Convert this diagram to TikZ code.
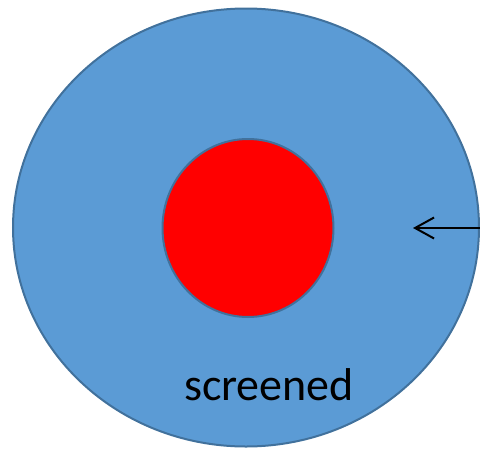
\documentclass[tikz,border=0pt]{standalone}
\usepackage{fontspec}
\setmainfont{Carlito}
\usepackage{tikz}
\usetikzlibrary{shapes.geometric,arrows.meta}
\usepackage{xcolor}
\definecolor{zoneblue}{HTML}{5B9BD5}
\definecolor{zoneedge}{HTML}{41719C}

\begin{document}
\begin{tikzpicture}[x=1pt, y=-1pt, every node/.style={font=\fontsize{46}{55}\selectfont}]
\useasboundingbox (0,0) rectangle (480,448);
\node[draw=zoneedge,line width=2pt,fill=zoneblue,ellipse,inner sep=0pt,minimum width=466pt,minimum height=438pt] (outer) at (246,227.5) {};
\node[draw=zoneedge,line width=2pt,fill=red,ellipse,inner sep=0pt,minimum width=171pt,minimum height=178pt] (core) at (248,228) {};
\node[anchor=base,inner sep=0pt] (screened) at (269,400) {screened};
\coordinate (edge) at (482,228);
\coordinate (tip) at (413,228);
\draw[-{Straight Barb[length=19pt,width=21pt,line width=2pt]},line width=1.8pt,draw=black] (edge) -- (tip);
\end{tikzpicture}
\end{document}
